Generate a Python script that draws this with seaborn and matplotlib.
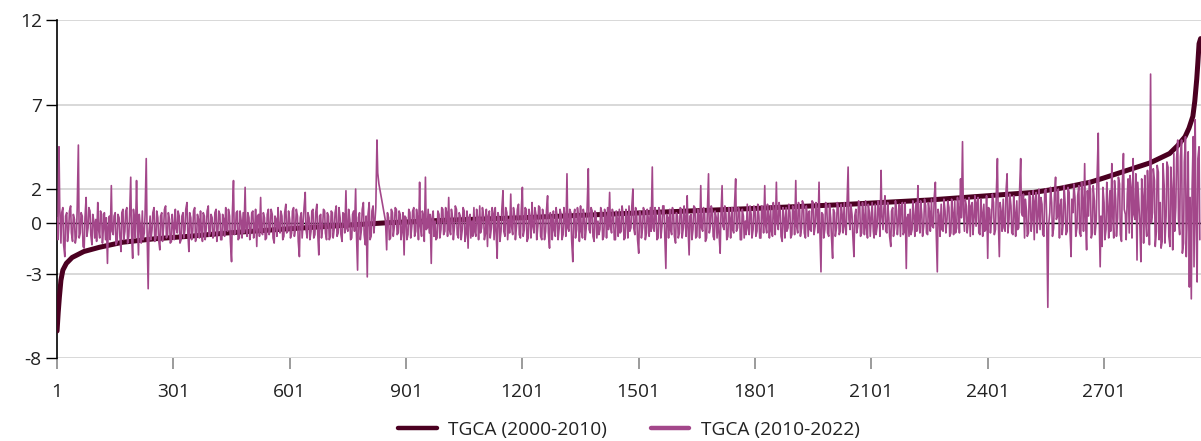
import matplotlib.pyplot as plt
import numpy as np
import pandas as pd
import seaborn as sns

# companies ranked by their 2000-2010 growth rate
label_old = "TGCA (2000-2010)"
label_new = "TGCA (2010-2022)"

old_rank = [1, 4, 7, 11, 16, 25, 40, 70, 110, 170, 250, 340, 440, 600, 850,
            1000, 1200, 1520, 1800, 2020, 2250, 2520, 2590, 2665, 2700, 2740,
            2780, 2820, 2870, 2890, 2910, 2920, 2930, 2935, 2940, 2943, 2946, 2950]
old_tgca = [-6.4, -5.3, -4.4, -3.4, -2.8, -2.4, -2.05, -1.7, -1.45, -1.15, -0.95,
            -0.8, -0.6, -0.35, 0.0, 0.15, 0.3, 0.6, 0.85, 1.07, 1.35, 1.8, 2.05,
            2.4, 2.65, 2.95, 3.25, 3.55, 4.1, 4.55, 5.1, 5.6, 6.3, 7.2, 8.5, 9.5,
            10.6, 10.9]

# 2010-2022 growth of the same companies, read at ranks 1, 6, 11, ...
new_tgca = [
    0.3, 4.5, -1.2, 0.9, -2.0, 0.6, -0.4, 1.0, -1.1, 0.2, -0.8, 4.6, -0.6, 0.4, -1.5, 1.5, -0.3, 0.7, -1.3, 0.1,
    0.2, 1.2, -0.9, 0.5, -0.2, -1.0, -2.4, 0.4, 2.2, -0.7, 0.6, -1.1, 0.3, -1.7, 0.8, -0.5, 0.9, -0.8, 2.7, -2.1,
    0.1, 2.5, -1.9, -0.3, 0.7, -0.6, 3.8, -3.9, 0.4, -0.4, 0.9, -0.9, 0.3, -1.6, 0.6, -0.2, 1.0, -0.7, 0.2, -1.1,
    -0.2, 0.8, -0.6, 0.4, -1.0, 0.6, -0.4, 1.2, -1.7, 0.3, -0.5, 0.9, -0.8, 0.2, 0.7, -1.1, 0.4, -0.3, 1.0, -0.6,
    0.3, -0.7, 0.8, -0.4, 0.5, -1.0, 0.2, 0.9, -0.5, 0.4, -2.3, 2.5, -0.6, 0.7, -0.9, 0.1, 0.6, 2.1, -0.8, 0.3,
    -0.4, 0.7, -0.2, -1.4, 0.5, 1.5, -0.7, 0.3, -0.9, 0.8, -0.3, 0.5, -1.2, 0.2, 0.9, -0.6, 0.4, -0.8, 1.1, -0.5,
    0.2, -0.6, 0.9, -0.3, 0.4, -2.0, 0.6, 0.1, 1.8, -0.9, 0.3, -0.5, 0.8, -0.7, 1.1, -1.9, 0.5, -0.2, 0.7, -1.0,
    0.4, -0.8, 0.6, -0.3, 1.0, -0.6, 0.3, -1.1, 0.5, 1.9, -0.5, 0.2, -0.9, 0.7, 2.0, -2.8, 0.6, -0.4, 1.2, -1.3,
    -3.2, 1.2, -0.8, 1.0, 0.2, 4.9, 2.3, 1.65, 1.0, 0.35, -1.6, 0.3, -0.9, 0.6, -0.2, 0.8, -0.6, 0.5, -0.4, -1.9,
    0.3, -0.7, 0.6, -0.2, 0.9, -0.5, 0.2, 2.4, -0.8, 0.4, 2.7, -0.3, -0.6, -2.4, 0.7, 0.1, -0.9, 0.5, -0.4, 0.8,
    -0.5, 0.6, 1.5, -0.7, 0.3, -0.2, 0.8, -0.9, 0.4, -0.4, 0.7, -0.6, -1.5, 0.5, 0.1, 0.9, -0.8, 0.2, 1.0, -0.3,
    0.4, -0.6, -1.4, 0.7, -0.3, 0.5, 0.9, -2.1, 0.3, -0.5, 1.9, -0.8, 0.6, 0.2, 1.7, -0.7, 0.4, -0.2, 1.1, -0.9,
    2.1, -0.4, 0.8, -0.9, 0.3, 1.2, -0.6, 0.5, -0.2, 0.9, -1.0, 0.4, -0.5, 1.6, -1.5, 0.2, 0.7, -0.8, 0.3, -0.3,
    0.5, -0.7, 0.2, 2.9, -0.5, 0.6, -2.3, 0.8, -0.4, 0.3, 1.0, -0.9, 0.4, -0.2, 3.2, -0.6, 0.7, -1.1, 0.5, 0.1,
    -0.4, 0.6, -0.8, 0.3, 0.9, 1.8, -0.6, 0.4, -1.0, 0.2, 0.8, -0.5, 0.5, -0.9, 0.3, 1.0, -0.3, 2.0, -0.7, 0.4,
    -1.8, 0.5, -0.3, 0.7, -0.6, 0.2, 0.9, 3.3, -0.5, 0.4, -0.9, 0.6, -0.2, 1.0, -2.7, 0.3, 0.8, -0.7, 0.5, -1.2,
    0.4, -0.6, 0.8, -0.3, 0.2, 1.6, -1.9, 0.5, -0.4, 0.9, -0.8, 0.3, 2.2, -0.5, 0.6, -0.9, 2.9, -0.2, 0.7, -1.0,
    0.3, 0.6, -1.8, 2.2, -0.4, 0.5, -0.8, 0.2, 0.9, -0.6, 2.6, -0.3, 0.7, -1.0, 0.4, 0.1, 1.1, -0.7, 0.5, -0.4,
    0.8, -0.5, 0.4, -0.9, 0.6, 2.2, -0.6, 0.3, 1.0, -0.8, 0.5, 2.4, -0.4, 0.7, -1.1, 0.2, 0.9, -0.3, 0.6, -0.7,
    0.5, 2.5, -0.6, 0.8, -0.3, 1.1, -0.9, 0.4, 0.7, -0.5, 1.2, -0.2, 0.6, 2.4, -2.9, 0.5, -0.4, 1.0, -0.8, 0.3,
    -2.1, 0.6, -0.3, 0.9, -0.5, 0.4, 1.2, -0.7, 3.3, -0.4, 0.5, -2.0, 0.8, -0.2, 1.0, -0.6, 0.3, 1.3, -0.9, 0.6,
    0.4, -0.5, 1.1, -0.2, 0.6, 3.1, -0.4, 1.6, -0.6, 0.3, -1.4, 0.9, -0.3, 0.7, 0.2, -0.8, 1.2, -0.5, -2.7, 0.5,
    0.8, -0.4, 0.3, 1.2, 2.2, -0.6, 0.5, -0.2, 1.0, -0.7, 0.6, 1.4, -0.3, 2.4, -2.9, 0.4, 1.1, -0.5, 0.7, 0.2,
    0.9, -0.6, 0.5, 1.3, -0.3, 0.7, 2.6, 4.8, -0.5, 1.0, 0.2, -0.8, 1.2, 0.4, -0.2, 1.5, -0.7, 0.6, 1.1, -0.4,
    -2.1, 0.8, 0.3, 1.2, -0.4, 3.8, -2.0, 0.6, 1.4, -0.5, 2.9, 0.2, 1.0, -0.7, 0.5, 1.3, -0.3, 3.8, 0.4, -0.9,
    0.7, -0.6, 1.5, 0.3, -1.0, 1.8, 0.5, -0.4, 1.1, -0.8, 2.0, -5.0, 0.6, 1.2, -0.3, 2.7, 0.4, -0.9, 1.4, 0.1,
    1.0, -0.5, 1.8, -2.0, 0.6, 1.5, -0.3, 2.2, -0.8, 1.1, 3.5, -1.6, 0.4, 1.9, -0.6, 1.3, 0.2, 5.3, -2.6, -1.4,
    1.2, -0.4, 0.8, 1.9, 3.5, -0.9, 1.4, 0.3, 2.3, -1.1, 4.1, 0.5, 1.7, -0.6, 2.0, 3.8, 0.2, -2.2, 1.0, -2.3,
    1.5, 2.8, -0.8, 1.1, 8.8, 0.6, 2.5, -0.5, 3.0, 1.2, -1.1, 2.2, 0.4, 3.3, -1.4, 1.8, 4.1, 0.9, 4.9, -0.7,
    4.9, -1.2, 5.1, 1.0, -3.8, -4.5, 5.1, 6.1, -3.5, 4.5,
]

# same series, read in between at ranks 3, 8, 13, ...
new_tgca_mid = [
    -1.0, 0.8, 0.6, -1.3, 0.4, -1.1, 0.7, -0.6, 0.5, -1.2, 0.9, -0.9, 0.6, -1.4, 0.3, -0.8, 0.9, -0.7, 0.5, -0.9,
    -1.1, -0.4, 0.7, -1.2, 0.6, 0.3, -0.2, -1.0, -0.5, 0.4, -1.3, 0.5, -0.8, 0.6, -1.0, 0.7, -1.2, 0.4, -0.6, 0.8,
    -0.9, 0.3, 0.5, -1.2, -1.0, 0.5, -0.3, -0.6, -1.0, 0.6, -1.1, 0.7, -1.0, 0.4, -1.1, 0.8, -0.9, 0.6, -1.2, 0.5,
    -1.0, -0.3, 0.7, -1.2, 0.4, -0.9, 0.8, -0.5, 0.6, -1.0, 0.7, -1.1, 0.5, -0.9, -0.4, 0.6, -1.0, 0.7, -0.8, 0.5,
    -0.9, 0.6, -1.1, 0.7, -1.0, 0.5, -0.8, -0.4, 0.8, -1.1, 0.5, -0.7, 0.6, -1.0, 0.7, -0.9, -0.6, -0.3, 0.6, -1.0,
    0.6, -0.9, 0.8, 0.4, -0.8, -0.5, 0.6, -1.0, 0.5, -0.7, 0.8, -0.9, 0.4, -0.8, -0.3, 0.7, -1.0, 0.6, -0.6, 0.7,
    -0.9, 0.7, -0.8, 0.8, -1.1, 0.3, -0.9, 0.9, -0.4, 0.6, -1.0, 0.7, -0.9, 0.6, -0.5, 0.4, -0.9, 0.8, -0.6, 0.6,
    -1.0, 0.7, -0.9, 0.6, -0.8, 0.9, -0.7, 0.6, -0.6, -0.3, 0.8, -1.0, 0.5, -0.5, -0.6, 0.3, -1.0, 0.8, -0.7, 0.4,
    0.5, -1.0, 0.7, -0.6, 0.9, 2.95, 2.05, 1.4, 0.75, 0.1, 0.6, -1.0, 0.8, -0.8, 0.9, -0.7, 0.7, -1.0, 0.6, 0.4,
    -1.0, 0.8, -0.9, 0.7, -0.8, 0.8, -1.0, -0.2, 0.7, -1.1, -0.4, 0.8, 0.5, 0.3, -0.8, -1.0, 0.7, -0.9, 0.9, -0.7,
    0.9, -0.8, -0.4, 0.8, -1.0, 1.0, -0.7, 0.6, -1.0, 0.9, -1.1, 0.7, 0.3, -0.9, -0.8, -0.5, 0.8, -1.0, -0.6, 0.9,
    -1.0, 0.8, 0.4, -0.9, 0.9, -1.0, -0.4, 0.6, -1.1, 0.8, -0.5, 0.9, -1.0, -0.6, -0.2, 0.9, -1.0, 0.8, -0.7, 0.7,
    -0.8, 0.9, -1.1, 0.8, -0.9, -0.2, 0.9, -1.0, 1.0, -0.8, 0.8, -1.0, 0.7, -0.6, 0.6, -1.0, -0.4, 0.9, -1.0, 0.8,
    -1.0, 0.9, -0.8, -0.3, 0.8, -1.0, 0.4, -0.9, 0.9, -1.1, -0.5, 0.8, -1.0, 0.9, -0.4, 0.9, -0.8, 0.7, -0.9, -0.7,
    0.9, -1.0, 0.8, -0.9, -0.4, -0.2, 0.8, -1.0, 0.7, -0.8, -0.6, 1.0, -1.0, 0.8, -0.9, -0.5, 0.9, -0.3, 0.9, -1.0,
    0.7, -0.9, 0.9, -1.0, 0.8, -0.8, -0.5, -0.3, 0.9, -1.0, 0.9, -0.9, 1.0, -0.6, 0.5, -0.9, -0.4, 0.9, -0.8, 0.6,
    -0.9, 0.9, -0.9, 1.0, -0.8, -0.2, 0.4, -1.0, 1.0, -0.9, 0.8, -0.9, -0.3, 0.9, -1.1, 0.6, -0.6, 1.0, -0.8, 0.7,
    -0.9, -0.6, 0.4, -0.2, 1.0, -1.0, 0.9, -0.9, -0.4, 1.0, -0.5, 0.9, -1.0, 0.8, -0.9, -0.7, -0.3, 1.0, -0.9, 1.0,
    -0.8, 1.1, -0.9, 1.0, -0.6, -0.1, 1.1, -0.9, -0.5, 1.2, -0.7, 0.0, 1.2, -0.8, 0.9, -0.9, -0.5, 1.1, -0.9, 1.0,
    -0.7, -0.2, 1.2, -0.8, 1.3, -0.6, 1.0, -0.8, -0.4, 1.3, -0.7, 1.2, -0.6, -0.3, 0.6, -0.9, 1.2, -0.6, 1.1, -0.8,
    0.8, -0.8, 1.2, -0.7, 1.1, -0.6, -0.2, 1.0, 0.2, 1.1, -0.7, 0.4, -0.6, 1.3, -0.8, 1.2, -0.7, -0.3, 1.1, -0.8,
    1.2, -0.9, -0.7, 1.3, -0.8, 0.4, 0.8, -0.5, 1.2, -0.8, 0.7, -0.8, 1.3, -0.7, 1.1, 1.0, -0.7, 1.2, 0.3, -0.8,
    -0.7, 1.3, -0.8, -0.5, 0.2, 1.3, -0.8, 1.4, -0.6, 1.2, -0.5, -0.2, 1.5, -0.4, 0.8, -0.8, -0.4, 1.4, -0.6, 1.3,
    -0.8, 1.4, -0.7, -0.6, 1.5, -0.6, 0.3, 0.8, 1.4, -0.6, 1.5, 1.0, -0.7, 1.6, 1.2, -0.6, 1.4, -0.8, -0.5, 1.6,
    0.9, -0.6, 1.7, -0.7, 1.6, 0.4, 1.2, -0.5, -0.3, 1.8, -0.6, 1.7, -0.6, 1.6, -0.8, -0.4, 1.8, 0.6, 1.7, 1.4,
    -0.8, 1.8, -0.5, 1.9, 1.3, -0.6, 2.0, 1.5, -0.7, 1.9, 0.3, -0.2, 2.1, -0.8, 1.6, 0.2, 2.0, 1.0, -0.7, 2.2,
    -0.7, 2.1, -0.4, 1.4, 2.3, -0.8, 1.6, -0.6, 2.4, -0.5, 0.3, 1.9, 2.5, -0.9, 2.2, -0.7, 2.6, 0.8, 0.4, 2.1,
    -1.0, 2.4, -0.9, -0.5, 0.6, 2.5, -0.8, 2.7, -0.7, 2.2, 0.8, -1.0, 2.6, 2.8, -0.9, 0.5, 2.9, 2.4, 0.1, 2.6,
    -1.2, 0.2, 3.1, -1.3, 0.0, 3.2, -1.4, 3.4, -1.0, -1.5, 3.5, -1.2, 3.6, -0.8, 3.3, -1.6, -0.5, 3.8, 0.2, 3.9,
    -1.8, 3.6, -2.0, 4.2, 1.5, 2.0, -2.6, 0.5, 3.8, -1.0,
]
new_rank = np.arange(1, 5 * len(new_tgca), 5)
new_rank_mid = new_rank + 2

y_ticks = [-8, -3, 0, 2, 7, 12]
x_ticks = [1, 301, 601, 901, 1201, 1501, 1801, 2101, 2401, 2701]

dark = "#4b0021"
pink = "#a3478a"
text_col = "#222222"

sns.set_theme(style="white")
plt.rcParams['font.family'] = ['Open Sans', 'DejaVu Sans']
plt.rcParams['axes.unicode_minus'] = False

fig = plt.figure(figsize=(12.01, 4.41), dpi=100)
ax = fig.add_axes([0.0475, 0.1882, 0.9525, 0.7664])

df_old = pd.DataFrame({'rank': old_rank, 'tgca': old_tgca})
df_new = pd.concat([
    pd.DataFrame({'rank': new_rank, 'tgca': new_tgca}),
    pd.DataFrame({'rank': new_rank_mid, 'tgca': new_tgca_mid}),
]).sort_values('rank')

sns.lineplot(data=df_old, x='rank', y='tgca', color=dark, linewidth=3.6,
             label=label_old, ax=ax, zorder=3)
sns.lineplot(data=df_new, x='rank', y='tgca', color=pink, linewidth=1.2,
             label=label_new, ax=ax, zorder=4)

ax.set_xlim(1, 2951)
ax.set_ylim(-8, 12)
ax.set_yticks(y_ticks)
ax.set_xticks(x_ticks)
ax.set_xlabel("")
ax.set_ylabel("")

ax.set_axisbelow(True)
ax.grid(axis='y', color='#d6d6d6', linewidth=1.3)
ax.grid(axis='x', visible=False)
ax.axhline(0, color='black', linewidth=1.0, zorder=2)

for side in ['top', 'right', 'bottom']:
    ax.spines[side].set_visible(False)
ax.spines['left'].set_color('black')
ax.spines['left'].set_linewidth(1.2)

ax.tick_params(axis='y', left=True, length=8, width=1.0, color='black',
               pad=3, labelsize=13.8, labelcolor=text_col)
ax.tick_params(axis='x', bottom=True, length=8, width=1.2, color='#8a8a8a',
               pad=10, labelsize=13.8, labelcolor=text_col)
ax.xaxis.get_major_ticks()[0].tick1line.set_color('black')

leg = ax.legend(loc='center', bbox_to_anchor=(0.5, -0.213), ncol=2, frameon=False,
                fontsize=13.8, handlelength=2.0, handletextpad=0.6, columnspacing=2.3)
for line in leg.get_lines():
    line.set_linewidth(3.2)
for t in leg.get_texts():
    t.set_color(text_col)

fig.savefig("out.png", dpi=100)
